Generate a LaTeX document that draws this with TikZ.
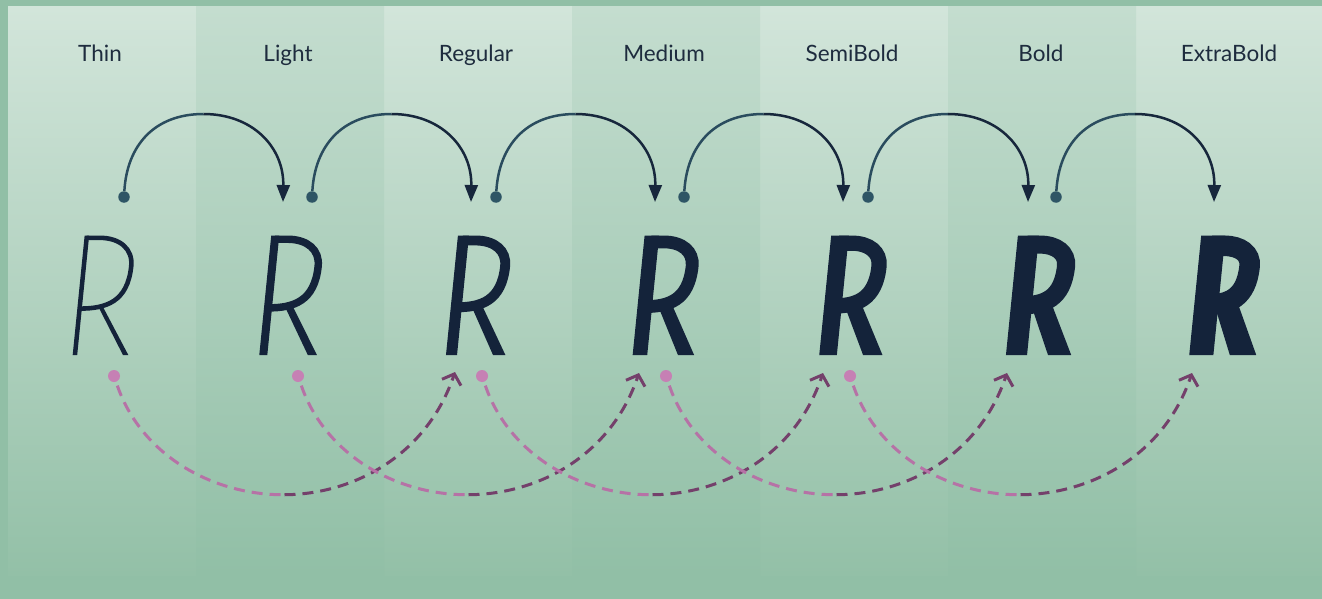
\documentclass[tikz,border=0pt]{standalone}
\usepackage{fontspec}
\setmainfont{Lato}
\usetikzlibrary{arrows.meta}
\definecolor{bg}{HTML}{91BFA6}
\definecolor{colLtop}{HTML}{D2E5DA}
\definecolor{colLmid}{HTML}{B0D1BF}
\definecolor{colLbot}{HTML}{93C0A7}
\definecolor{colDtop}{HTML}{C4DDCF}
\definecolor{colDmid}{HTML}{9DC7B0}
\definecolor{colDbot}{HTML}{91BFA6}
\definecolor{ink}{HTML}{14233A}
\definecolor{labelink}{HTML}{1E2C3E}
\definecolor{sdotc}{HTML}{2E5565}
\definecolor{arcA}{HTML}{2A4C5E}
\definecolor{arcB}{HTML}{17273C}
\definecolor{pdotc}{HTML}{C680B4}
\definecolor{dashA}{HTML}{B672A6}
\definecolor{dashB}{HTML}{74406B}
\tikzset{
  lab/.style={anchor=base, text=labelink, font=\fontsize{22.5}{25}\selectfont, inner sep=0pt},
  sdot/.style={circle, fill=sdotc, inner sep=0pt, minimum size=11.5pt},
  pdot/.style={circle, fill=pdotc, inner sep=0pt, minimum size=12pt},
  arcfirst/.style={draw=arcA, line width=2.5pt},
  arcsecond/.style={draw=arcB, line width=2.5pt, -{Triangle[length=17pt,width=13pt]}},
  dashfirst/.style={draw=dashA, line width=3pt, dash pattern=on 11pt off 7pt, shorten <=4pt},
  dashsecond/.style={draw=dashB, line width=3pt, dash pattern=on 11pt off 7pt, -{Straight Barb[length=9pt,width=20pt]}},
}
\newcommand{\glyphR}[2]{%
 \begin{scope}[shift={(#1,355)}, xslant=0.1]
  \pgfmathsetmacro\gS{#2}
  \pgfmathsetmacro\gSB{0.82*#2+0.9}
  \pgfmathsetmacro\gW{49.7+0.5*#2}
  \pgfmathsetmacro\gXR{\gW-\gSB/2}
  \pgfmathsetmacro\gYT{119.5-\gSB/2}
  \pgfmathsetmacro\gHB{45.5+0.2*#2}
  \pgfmathsetmacro\gHM{89}
  \pgfmathsetmacro\gXA{13+0.45*#2}
  \pgfmathsetmacro\gBR{53+0.58*#2}
  \pgfmathsetmacro\gBL{\gBR-1.08*#2-0.5}
  \pgfmathsetmacro\gHT{\gHB+0.3*#2}
  \pgfmathsetmacro\gTR{\gBR+(21+#2-\gBR)*\gHT/48}
  \pgfmathsetmacro\gTL{\gBL+(21-\gBL)*\gHT/48}
  \clip (-30,0) -- (110,0) -- (110,-119.5) -- (-30,-119.5) -- cycle;
  \draw[ink, line width=\gS pt] ({\gS/2},10) -- ({\gS/2},-130);
  \draw[ink, line width=\gSB pt] ({\gS/2},{-\gYT}) -- ({\gXA},{-\gYT})
     .. controls ({\gXA+0.6*(\gXR-\gXA)},{-\gYT}) and ({\gXR},{-\gHM-0.6*(\gYT-\gHM)}) .. ({\gXR},{-\gHM})
     .. controls ({\gXR},{-\gHM+0.85*(\gHM-\gHB)}) and ({\gXR-0.45*(\gXR-\gS/2)},{-\gHB}) .. ({\gS/2},{-\gHB});
  \fill[ink] ({\gBL},0) -- ({\gBR},0) -- ({\gTR},{-\gHT}) -- ({\gTL},{-\gHT}) -- cycle;
 \end{scope}}
\begin{document}
\begin{tikzpicture}[x=1pt,y=-1pt]
\useasboundingbox (0,0) rectangle (1322,599);
\fill[bg] (0,0) rectangle (1322,599);
% columns
\foreach \i in {0,2,4,6}
  \shade[top color=colLtop, middle color=colLmid, bottom color=colLbot] ({8+188*\i},7) rectangle ({8+188*(\i+1)},575);
\foreach \i in {1,3,5}
  \shade[top color=colDtop, middle color=colDmid, bottom color=colDbot] ({8+188*\i},7) rectangle ({8+188*(\i+1)},575);
% labels
\node[lab] (lab1) at (100,62) {Thin};
\node[lab] (lab2) at (288,62) {Light};
\node[lab] (lab3) at (476,62) {Regular};
\node[lab] (lab4) at (664,62) {Medium};
\node[lab] (lab5) at (852,62) {SemiBold};
\node[lab] (lab6) at (1041,62) {Bold};
\node[lab] (lab7) at (1229,62) {ExtraBold};
% glyphs
\glyphR{72.7}{4.5}
\glyphR{259.3}{8}
\glyphR{446}{11}
\glyphR{632.7}{14.5}
\glyphR{819.3}{17.5}
\glyphR{1006}{21}
\glyphR{1189.3}{24}
% solid arcs: dots, tops, tips
\node[sdot] (sd1) at (124,197) {};
\node[sdot] (sd2) at (312,197) {};
\node[sdot] (sd3) at (496,197) {};
\node[sdot] (sd4) at (684,197) {};
\node[sdot] (sd5) at (868,197) {};
\node[sdot] (sd6) at (1056,197) {};
\coordinate (st2) at (283,202);
\coordinate (st3) at (471,202);
\coordinate (st4) at (655,202);
\coordinate (st5) at (843,202);
\coordinate (st6) at (1028,202);
\coordinate (st7) at (1214,202);
\coordinate (sm1) at (203.5,114);
\coordinate (sm2) at (391.5,114);
\coordinate (sm3) at (575.5,114);
\coordinate (sm4) at (763.5,114);
\coordinate (sm5) at (948,114);
\coordinate (sm6) at (1135,114);
\foreach \a/\b in {1/2,2/3,3/4,4/5,5/6,6/7}{
  \draw[arcfirst] (sd\a) .. controls +(3,-51.5) and +(-49.3,0) .. (sm\a);
  \draw[arcsecond] (sm\a) .. controls +(49.3,0) and +(1,-54.6) .. (st\b);
}
% dashed arcs
\node[pdot] (pd1) at (114,376) {};
\node[pdot] (pd2) at (298,376) {};
\node[pdot] (pd3) at (482,376) {};
\node[pdot] (pd4) at (666,376) {};
\node[pdot] (pd5) at (850,376) {};
\coordinate (pt3) at (455,372);
\coordinate (pt4) at (639,373);
\coordinate (pt5) at (823,373);
\coordinate (pt6) at (1007,373);
\coordinate (pt7) at (1192,373);
\coordinate (pm1) at (284.5,494.75);
\coordinate (pm2) at (468.5,494.75);
\coordinate (pm3) at (652.5,494.75);
\coordinate (pm4) at (836.5,494.75);
\coordinate (pm5) at (1020.5,494.75);
\foreach \a/\b in {1/3,2/4,3/5,4/6,5/7}{
  \draw[dashfirst] (pd\a) .. controls +(27.5,79.5) and +(-71.5,0.5) .. (pm\a);
  \draw[dashsecond] (pm\a) .. controls +(71.5,-0.5) and +(-27.5,81.5) .. (pt\b);
}
\end{tikzpicture}
\end{document}
